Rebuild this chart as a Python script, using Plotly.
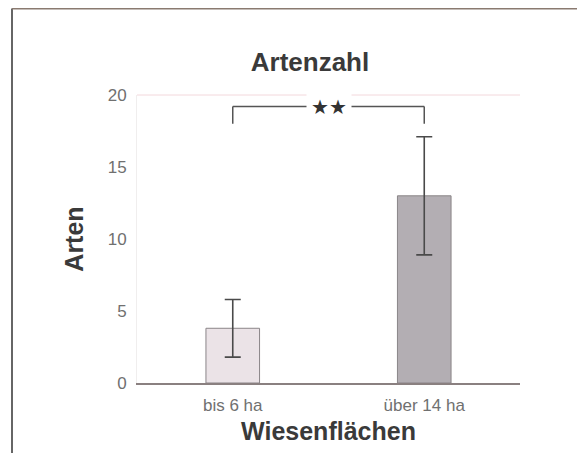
import plotly.graph_objects as go

categories = ["bis 6 ha", "über 14 ha"]
means = [3.8, 13.0]
errors = [2.0, 4.1]
bar_colors = ["#ebe3e7", "#b3aeb3"]
y_ticks = [0, 5, 10, 15, 20]
signif = "★★"

# page body has an 8px margin, so the figure is laid out 8px smaller / offset
OFF = 8
W, H = 585 - OFF, 453 - OFF
L, R, T, B = 137 - OFF, 585 - 520, 95 - OFF, 453 - 383
PW, PH = W - L - R, H - T - B

fig = go.Figure()
fig.add_trace(go.Bar(
    x=categories, y=means, width=0.28,
    marker=dict(color=bar_colors, line=dict(color="#8a8588", width=1)),
    error_y=dict(type="data", array=errors, visible=True, color="#4a4a4a", thickness=1.6, width=8),
))

# significance bracket
bracket_y, tick_y = 19.2, 18.0
for xx in (0, 1):
    fig.add_shape(type="line", xref="x", yref="y", x0=xx, x1=xx, y0=tick_y, y1=bracket_y,
                  line=dict(color="#555", width=1.5))
fig.add_shape(type="line", xref="x", yref="y", x0=0, x1=1, y0=bracket_y, y1=bracket_y,
              line=dict(color="#555", width=1.5))
fig.add_annotation(x=0.5, y=bracket_y, xref="x", yref="y", text=signif, showarrow=False,
                   font=dict(size=20, color="#333", family="DejaVu Sans"), bgcolor="white",
                   borderpad=4)

# outer frame (left and top)
fx = (12 - 137) / PW
fy_top = (H - 0.5 - B) / PH
fig.add_shape(type="line", xref="paper", yref="paper", x0=fx, x1=fx, y0=-B / PH, y1=fy_top,
              line=dict(color="#666", width=2))
fig.add_shape(type="line", xref="paper", yref="paper", x0=fx, x1=(W - L) / PW, y0=fy_top, y1=fy_top,
              line=dict(color="#8a7a70", width=2))
# faint top border of plot
fig.add_shape(type="line", xref="paper", yref="paper", x0=0, x1=1, y0=1, y1=1,
              line=dict(color="#f3d8dc", width=1))

fig.update_layout(
    width=W, height=H,
    margin=dict(l=L, r=R, t=T, b=B),
    paper_bgcolor="white", plot_bgcolor="white",
    showlegend=False,
    font=dict(family="Liberation Sans, Arial", color="#555"),
    title=dict(text="<b>Artenzahl</b>", x=(310 - OFF) / W, xanchor="center",
               y=1 - (62 - OFF) / H, yanchor="middle",
               yref="container", xref="container",
               font=dict(size=26, color="#3a3a3a", family="Liberation Sans, Arial")),
    xaxis=dict(showgrid=False, showline=True, linecolor="#8a8080", linewidth=1.5, ticks="",
               tickfont=dict(size=17, color="#707070"), range=[-0.5, 1.5], ticklabelstandoff=6,
               title=dict(text="<b>Wiesenflächen</b>", font=dict(size=25, color="#3a3a3a"), standoff=8)),
    yaxis=dict(range=[0, 20], tickvals=y_ticks, showgrid=False, showline=True, linecolor="#f0eeee",
               linewidth=1, ticks="", zeroline=False, ticklabelstandoff=6,
               tickfont=dict(size=17, color="#707070"),
               title=dict(text="<b>Arten</b>", font=dict(size=25, color="#3a3a3a"), standoff=16)),
)

fig.write_html("out.html")
